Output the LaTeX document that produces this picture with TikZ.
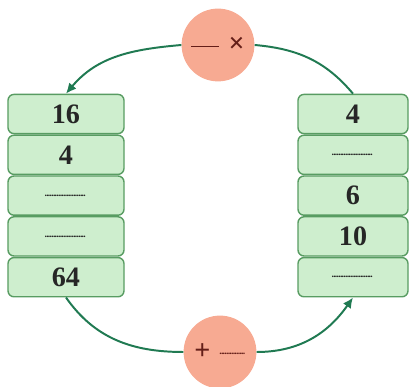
\documentclass[tikz,border=0pt]{standalone}
\usepackage{amsmath}
\usepackage{fontspec}
\setmainfont{Liberation Serif}
\usepackage{tikz}
\usetikzlibrary{arrows.meta}

\definecolor{cellfill}{RGB}{206,238,206}
\definecolor{celldraw}{RGB}{88,156,98}
\definecolor{arcgreen}{RGB}{32,122,82}
\definecolor{opfill}{RGB}{247,170,146}
\definecolor{optext}{RGB}{100,30,24}

% blank to be filled in
\newcommand{\blank}[1][1.05cm]{\makebox[#1]{\fontsize{7}{7}\selectfont\leaders\hbox to 1.2pt{\hss.\hss}\hfill}}

\begin{document}
\begin{tikzpicture}[scale=1.0,
    cell/.style={draw=celldraw,line width=1pt,fill=cellfill,rounded corners=0.15cm,
      minimum height=0.98cm,inner sep=0pt,text=black!85,font=\fontsize{20}{22}\selectfont\bfseries},
    op/.style={circle,fill=opfill,minimum size=1.82cm,inner sep=0pt,text=optext,
      font=\fontsize{20}{22}\selectfont\bfseries},
    arc/.style={arcgreen,line width=1.4pt},
    >={Latex[length=2.6mm,width=2.4mm]}]
  \useasboundingbox (0,0) rectangle (10.3,9.675);

  % left column
  \foreach \t [count=\i] in {16,4,\blank,\blank,64}
    \node[cell,minimum width=2.9cm] (l\i) at (1.65,{6.825-(\i-1)*1.02}) {\t};
  % right column
  \foreach \t [count=\i] in {4,\blank,6,10,\blank}
    \node[cell,minimum width=2.75cm] (r\i) at (8.825,{6.825-(\i-1)*1.02}) {\t};

  \node[op] (mul) at (5.45,8.55) {\rule[0.45ex]{0.7cm}{0.6pt}\,\,×};
  \node[op] (add) at (5.5,0.875) {+\,\,\raisebox{0.45ex}{\blank[0.65cm]}};

  \draw[arc,->] (mul.west) to[out=185,in=50] (l1.north);
  \draw[arc] (mul.east) to[out=-5,in=130] (r1.north);
  \draw[arc] (l5.south) to[out=-55,in=180] (add.west);
  \draw[arc,->] (add.east) to[out=0,in=-125] (r5.south);
\end{tikzpicture}
\end{document}
